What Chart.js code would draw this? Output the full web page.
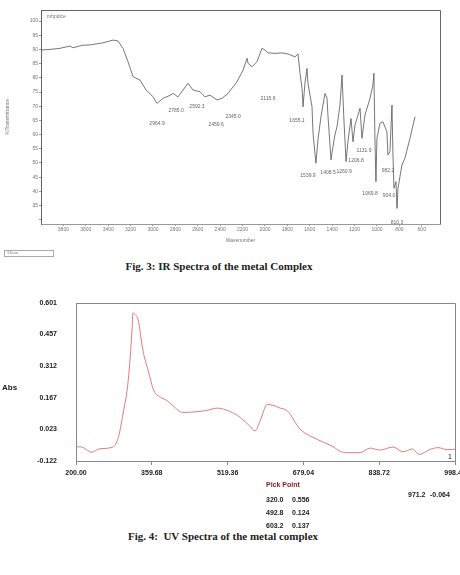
<!DOCTYPE html>
<html>
<head>
<meta charset="utf-8">
<script src="https://cdn.jsdelivr.net/npm/chart.js@4.4.1/dist/chart.umd.min.js"></script>
<style>
  body { margin: 0; background: #fff; width: 460px; height: 575px; position: relative; overflow: hidden; font-family: "Liberation Sans", Arial, sans-serif; }
  canvas { position: absolute; }
  .txt { position: absolute; white-space: nowrap; line-height: 1; }
  .cap { font-family: "Liberation Serif", "DejaVu Serif", serif; font-weight: bold; font-size: 11px; color: #222; transform: translate(-50%, -50%); }
  .uvt { font-family: "Liberation Sans", sans-serif; font-weight: bold; font-size: 7px; color: #222; transform: translateY(-50%); }
  .tiny { font-size: 5px; color: #777; }
</style>
</head>
<body>
<canvas id="ir" width="450" height="245" style="left:0px;top:0px"></canvas>
<canvas id="uv" width="460" height="200" style="left:0px;top:290px"></canvas>

<div class="txt tiny" style="left:47px;top:14px">mhpdice</div>
<div class="txt tiny" style="left:4px;top:250px;width:46px;height:5px;border:1px solid #aaa;font-size:4px;padding-left:2px">1Scan</div>
<div class="txt cap" style="left:219px;top:266px">Fig. 3: IR Spectra of the metal Complex</div>

<div class="txt uvt" style="left:2px;top:388px;font-size:8px">Abs</div>
<div class="txt uvt" style="left:448px;top:456px;font-weight:normal">1</div>
<div id="picks"></div>
<div class="txt cap" style="left:223px;top:536px">Fig. 4:&nbsp; UV Spectra of the metal complex</div>

<script>
// IR spectrum
const irWavenumber = [4000, 3920, 3830, 3741, 3714, 3625, 3560, 3500, 3450, 3411, 3357, 3313, 3268, 3223, 3178, 3116, 3062, 3027, 3000, 2964,
  2910, 2860, 2821, 2777, 2732, 2687, 2643, 2580, 2536, 2491, 2428, 2384, 2330, 2250, 2196, 2160, 2151, 2116, 2071, 2027,
  2000, 1973, 1910, 1848, 1794, 1732, 1705, 1687, 1669, 1660, 1643, 1625, 1616, 1580, 1571, 1545, 1527, 1500, 1464, 1446,
  1437, 1410, 1393, 1375, 1357, 1330, 1312, 1294, 1276, 1259, 1232, 1214, 1196, 1169, 1151, 1134, 1107, 1062, 1036, 1027,
  1018, 1009, 1000, 973, 946, 911, 902, 884, 866, 857, 848, 830, 821, 812, 777, 750, 705, 660];
const irTransmittance = [89.8, 90.0, 90.4, 91.2, 90.6, 91.5, 91.6, 92.0, 92.3, 92.7, 93.3, 93.0, 90.4, 85.7, 80.4, 79.2, 75.7, 74.5, 73.3, 71.0,
  72.8, 73.6, 74.5, 73.3, 75.7, 78.1, 75.7, 75.1, 73.3, 73.9, 72.2, 72.8, 74.5, 78.6, 82.7, 86.9, 85.1, 83.9, 85.7, 90.4,
  89.8, 88.8, 88.6, 88.8, 88.4, 87.4, 88.4, 81.6, 76.3, 69.8, 78.1, 83.3, 78.1, 69.8, 60.5, 49.9, 58.1, 66.3, 74.5, 72.8,
  66.3, 51.1, 55.7, 59.9, 62.8, 70.4, 81.0, 64.5, 50.5, 57.5, 65.7, 57.5, 63.4, 66.9, 69.3, 58.7, 66.9, 72.8, 77.5, 81.6,
  58.7, 43.4, 58.7, 64.0, 64.5, 61.0, 52.8, 54.0, 70.4, 52.8, 41.1, 43.4, 34.0, 41.1, 49.3, 51.7, 58.7, 66.3];
const irXTicks = [3800, 3600, 3400, 3200, 3000, 2800, 2600, 2400, 2200, 2000, 1800, 1600, 1400, 1200, 1000, 800, 600];
const irYTicks = [100, 95, 90, 85, 80, 75, 70, 65, 60, 55, 50, 45, 40, 35, 30];
const irYTickLabels = ['100', '95', '90', '85', '80', '75', '70', '65', '60', '55', '50', '45', '40', '35', ''];
// peak annotations: label text and where it sits (wavenumber, %T)
const irPeakLabels = ['2964.9', '2785.0', '2592.3', '2459.6', '2345.0', '2115.6', '1655.1', '1539.9', '1408.5', '1260.9', '1206.8', '1131.9', '1069.8', '982.2', '904.0', '810.3'];
const irPeakX = [2964, 2794, 2607, 2437, 2285, 1973, 1714, 1616, 1437, 1294, 1187, 1116, 1062, 901, 892, 821];
const irPeakY = [63.7, 68.3, 69.7, 63.4, 66.5, 72.5, 64.8, 45.4, 46.5, 46.8, 50.7, 54.2, 39.1, 47.2, 38.4, 28.9];

// UV spectrum
const uvWavelength = [200, 212, 222, 232, 250, 278, 289, 299, 310, 318, 320, 324, 331, 341, 352, 364, 378, 392, 404, 425,
  461, 480, 497, 524, 546, 565, 577, 588, 603, 615, 630, 645, 672, 708, 735, 767, 798, 820, 840, 868,
  889, 908, 923, 946, 963, 982, 998.4];
const uvAbsorbance = [-0.057, -0.058, -0.070, -0.082, -0.066, -0.058, -0.015, 0.093, 0.246, 0.477, 0.556, 0.550, 0.523, 0.384, 0.292, 0.200, 0.170, 0.154, 0.131, 0.100,
  0.105, 0.112, 0.120, 0.105, 0.077, 0.040, 0.016, 0.062, 0.137, 0.133, 0.120, 0.108, 0.024, -0.023, -0.049, -0.084, -0.084, -0.063, -0.072, -0.058,
  -0.080, -0.067, -0.092, -0.069, -0.061, -0.070, -0.068];
const uvXTicks = [200.00, 359.68, 519.36, 679.04, 838.72, 998.40];
const uvYTicks = [0.601, 0.457, 0.312, 0.167, 0.023, -0.122];
const pickWl = ['320.0', '492.8', '603.2'];
const pickAbs = ['0.556', '0.124', '0.137'];
const extraPickWl = '971.2';
const extraPickAbs = '-0.064';

// top + right border of the plot box
const frame = {
  id: 'frame',
  afterDraw(chart, args, opts) {
    const { ctx, chartArea: a } = chart;
    ctx.save();
    ctx.strokeStyle = opts.color;
    ctx.lineWidth = 1;
    ctx.beginPath();
    ctx.moveTo(a.left, a.top + 0.5);
    ctx.lineTo(a.right + 0.5, a.top + 0.5);
    ctx.lineTo(a.right + 0.5, a.bottom);
    ctx.stroke();
    ctx.restore();
  }
};

const peakLabels = {
  id: 'peakLabels',
  afterDatasetsDraw(chart) {
    const { ctx, scales } = chart;
    ctx.save();
    ctx.font = '5px "Liberation Sans", sans-serif';
    ctx.fillStyle = '#666';
    ctx.textAlign = 'center';
    ctx.textBaseline = 'middle';
    irPeakLabels.forEach((t, i) => {
      ctx.fillText(t, scales.x.getPixelForValue(irPeakX[i]), scales.y.getPixelForValue(irPeakY[i]));
    });
    ctx.restore();
  }
};

new Chart(document.getElementById('ir'), {
  type: 'line',
  data: {
    datasets: [{
      data: irWavenumber.map((w, i) => ({ x: w, y: irTransmittance[i] })),
      borderColor: '#555',
      borderWidth: 0.8,
      pointRadius: 0,
      tension: 0
    }]
  },
  options: {
    responsive: false,
    animation: false,
    layout: { padding: { top: 10, right: 10, left: 0, bottom: 0 } },
    plugins: { legend: { display: false }, tooltip: { enabled: false }, frame: { color: '#666' } },
    scales: {
      x: {
        type: 'linear', reverse: true, min: 437, max: 4000,
        afterBuildTicks: s => { s.ticks = irXTicks.map(v => ({ value: v })); },
        ticks: { font: { size: 5 }, color: '#777', padding: 1, maxRotation: 0, autoSkip: false, callback: v => String(v) },
        grid: { drawOnChartArea: false, tickLength: 2, color: '#999' },
        border: { color: '#999' },
        title: { display: true, text: 'Wavenumber', font: { size: 5 }, color: '#777', padding: { top: 0, bottom: 1 } },
        afterFit: s => { s.height = 21; s.paddingLeft = 0; s.paddingRight = 0; }
      },
      y: {
        min: 28.5, max: 103.9,
        afterBuildTicks: s => { s.ticks = irYTicks.map(v => ({ value: v })); },
        ticks: { font: { size: 5 }, color: '#777', padding: 1, autoSkip: false, callback: (v, i) => irYTickLabels[i] },
        grid: { drawOnChartArea: false, tickLength: 2, color: '#999' },
        border: { color: '#666' },
        title: { display: true, text: '%Transmittance', font: { size: 5 }, color: '#777', padding: { top: 5, bottom: 0 } },
        afterFit: s => { s.width = 41; s.paddingTop = 0; s.paddingBottom = 0; }
      }
    }
  },
  plugins: [frame, peakLabels]
});

const uvFont = { family: '"Liberation Sans", sans-serif', size: 7, weight: 'bold' };

new Chart(document.getElementById('uv'), {
  type: 'line',
  data: {
    datasets: [{
      data: uvWavelength.map((w, i) => ({ x: w, y: uvAbsorbance[i] })),
      borderColor: '#e47a7a',
      borderWidth: 1,
      pointRadius: 0,
      cubicInterpolationMode: 'monotone'
    }]
  },
  options: {
    responsive: false,
    animation: false,
    layout: { padding: { top: 13, right: 5, left: 0, bottom: 0 } },
    plugins: { legend: { display: false }, tooltip: { enabled: false }, frame: { color: '#888' } },
    scales: {
      x: {
        type: 'linear', min: 200, max: 998.4,
        afterBuildTicks: s => { s.ticks = uvXTicks.map(v => ({ value: v })); },
        ticks: { font: uvFont, color: '#222', padding: 4, maxRotation: 0, autoSkip: false, callback: v => v.toFixed(2) },
        grid: { drawOnChartArea: false, tickLength: 4, color: '#888' },
        border: { color: '#888' },
        afterFit: s => { s.height = 29; s.paddingLeft = 0; s.paddingRight = 0; }
      },
      y: {
        min: -0.122, max: 0.601,
        afterBuildTicks: s => { s.ticks = uvYTicks.map(v => ({ value: v })); },
        ticks: { font: uvFont, color: '#222', padding: 19, autoSkip: false, callback: v => v.toFixed(3) },
        grid: { drawOnChartArea: false, drawTicks: false, color: '#888' },
        border: { color: '#888' },
        afterFit: s => { s.width = 76; s.paddingTop = 0; s.paddingBottom = 0; }
      }
    }
  },
  plugins: [frame]
});

// pick point table
const picks = document.getElementById('picks');
function addText(txt, left, top, color) {
  const d = document.createElement('div');
  d.className = 'txt uvt';
  d.style.left = left + 'px';
  d.style.top = top + 'px';
  if (color) d.style.color = color;
  d.textContent = txt;
  picks.appendChild(d);
}
addText('Pick Point', 266, 484, '#8b1a1a');
pickWl.forEach((w, i) => {
  addText(w, 266, 499 + i * 13);
  addText(pickAbs[i], 292, 499 + i * 13);
});
addText(extraPickWl, 408, 494);
addText(extraPickAbs, 430, 494);
</script>
</body>
</html>
